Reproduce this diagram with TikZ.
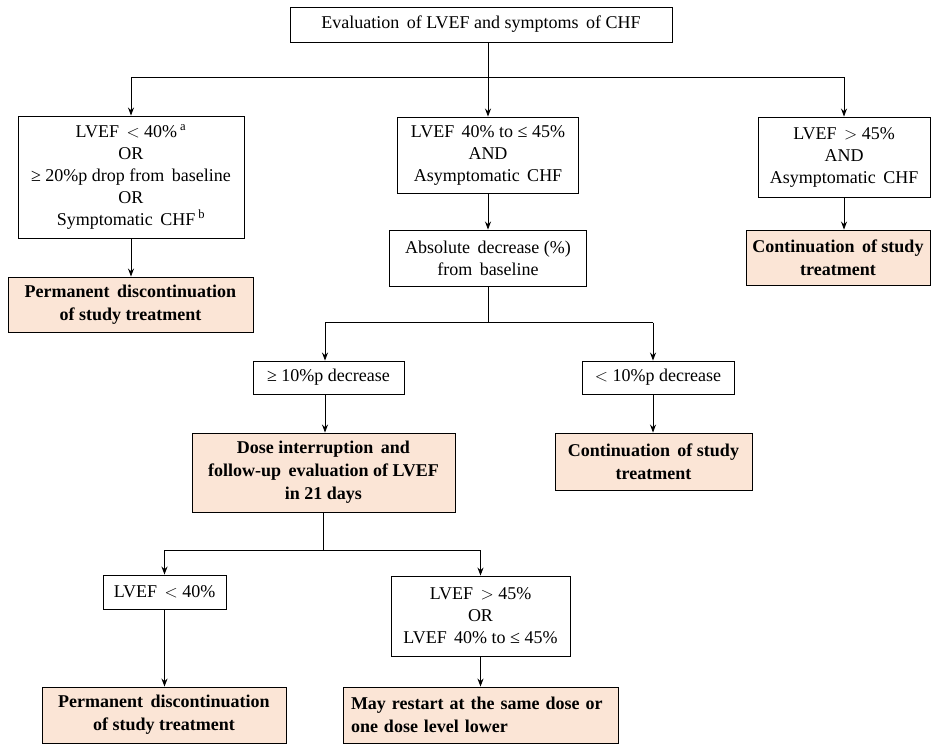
\documentclass[tikz,border=0pt]{standalone}
\usepackage{fontspec}
\setmainfont{Liberation Serif}
\newfontfamily\chartfont{Liberation Serif}
\usepackage{tikz}
\usetikzlibrary{arrows.meta}
\definecolor{peach}{RGB}{251,229,214}
\tikzset{
	box/.style={draw, line width=0.9pt, inner sep=2pt, align=center, font=\chartfont\fontsize{18}{22}\selectfont},
	outbox/.style={box, fill=peach, font=\chartfont\fontsize{18}{23}\selectfont\bfseries},
	link/.style={line width=0.9pt, -{Stealth[length=8pt,width=6pt]}}
}
\begin{document}
\begin{tikzpicture}[x=1pt,y=-1pt]
		\path[use as bounding box, fill=white] (0,0) rectangle (931,744);
		% first level
		\node[box, minimum width=382, minimum height=35] (eval) at (481,24.5) {Evaluation\, of LVEF and symptoms\, of CHF};
		\node[box, minimum width=226, minimum height=122] (lvlow) at (131,177) {LVEF\, ${<}$ 40\%\,\textsuperscript{a}\\OR\\≥ 20\%p drop from\, baseline\\OR\\Symptomatic\, CHF\,\textsuperscript{b}};
		\node[box, minimum width=181, minimum height=76] (lvmid) at (488,155) {LVEF\, 40\% to ≤ 45\%\\AND\\Asymptomatic\, CHF};
		\node[box, minimum width=172, minimum height=80] (lvhigh) at (844,157) {LVEF\, ${>}$ 45\%\\AND\\Asymptomatic\, CHF};
		\node[outbox, minimum width=245, minimum height=55] (stopa) at (130.5,304.5) {Permanent\, discontinuation\\of study treatment};
		\node[outbox, minimum width=184, minimum height=55] (conta) at (838,257.5) {Continuation\, of study\\treatment};
		\node[box, minimum width=197, minimum height=56] (absdec) at (488,258) {Absolute\, decrease (\%)\\from\, baseline};
		% second level
		\node[box, minimum width=151, minimum height=33] (gedec) at (328.5,377.5) {≥ 10\%p decrease};
		\node[box, minimum width=152, minimum height=33] (ltdec) at (658,377.5) {${<}$ 10\%p decrease};
		\node[outbox, minimum width=263, minimum height=79] (pause) at (323.5,472.5) {Dose interruption\, and\\follow-up\, evaluation of LVEF\\in 21 days};
		\node[outbox, minimum width=197, minimum height=57] (contb) at (653.5,461.5) {Continuation\, of study\\treatment};
		% third level
		\node[box, minimum width=123, minimum height=34] (lvfail) at (164.5,592) {LVEF\, ${<}$ 40\%};
		\node[box, minimum width=179, minimum height=80] (lvback) at (480.5,616) {LVEF\, ${>}$ 45\%\\OR\\LVEF\, 40\% to ≤ 45\%};
		\node[outbox, minimum width=244, minimum height=56] (stopb) at (164,715) {Permanent\, discontinuation\\of study treatment};
		\node[outbox, minimum width=275, minimum height=56, align=left, text width=259] (restart) at (480.5,715) {May restart at the same dose or\\one dose level lower};

		\coordinate (splita) at (488,77);
		\coordinate (splitb) at (488,322.5);
		\coordinate (splitc) at (323.5,550);

		\draw[link] (eval.south -| lvmid.north) -- (lvmid.north);
		\draw[line width=0.9pt] (splita -| lvlow.north) -- (splita -| lvhigh.north);
		\draw[link] (splita -| lvlow.north) -- (lvlow.north);
		\draw[link] (splita -| lvhigh.north) -- (lvhigh.north);
		\draw[link] (lvlow.south) -- (lvlow.south |- stopa.north);
		\draw[link] (lvhigh.south) -- (lvhigh.south |- conta.north);
		\draw[link] (lvmid.south) -- (absdec.north);

		\draw[line width=0.9pt] (absdec.south) -- (splitb);
		\draw[line width=0.9pt] ([xshift=-3.5pt]gedec.north |- splitb) -- ([xshift=-5pt]ltdec.north |- splitb);
		\draw[link] ([xshift=-3.5pt]gedec.north |- splitb) -- ([xshift=-3.5pt]gedec.north);
		\draw[link] ([xshift=-5pt]ltdec.north |- splitb) -- ([xshift=-5pt]ltdec.north);
		\draw[link] ([xshift=-3.5pt]gedec.south) -- ([xshift=-3.5pt]gedec.south |- pause.north);
		\draw[link] ([xshift=-5pt]ltdec.south) -- ([xshift=-5pt]ltdec.south |- contb.north);

		\draw[line width=0.9pt] (pause.south) -- (splitc);
		\draw[line width=0.9pt] (splitc -| lvfail.north) -- (splitc -| lvback.north);
		\draw[link] (splitc -| lvfail.north) -- (lvfail.north);
		\draw[link] (splitc -| lvback.north) -- (lvback.north);
		\draw[link] (lvfail.south) -- (stopb.north -| lvfail.south);
		\draw[link] (lvback.south) -- (restart.north -| lvback.south);
\end{tikzpicture}
\end{document}
